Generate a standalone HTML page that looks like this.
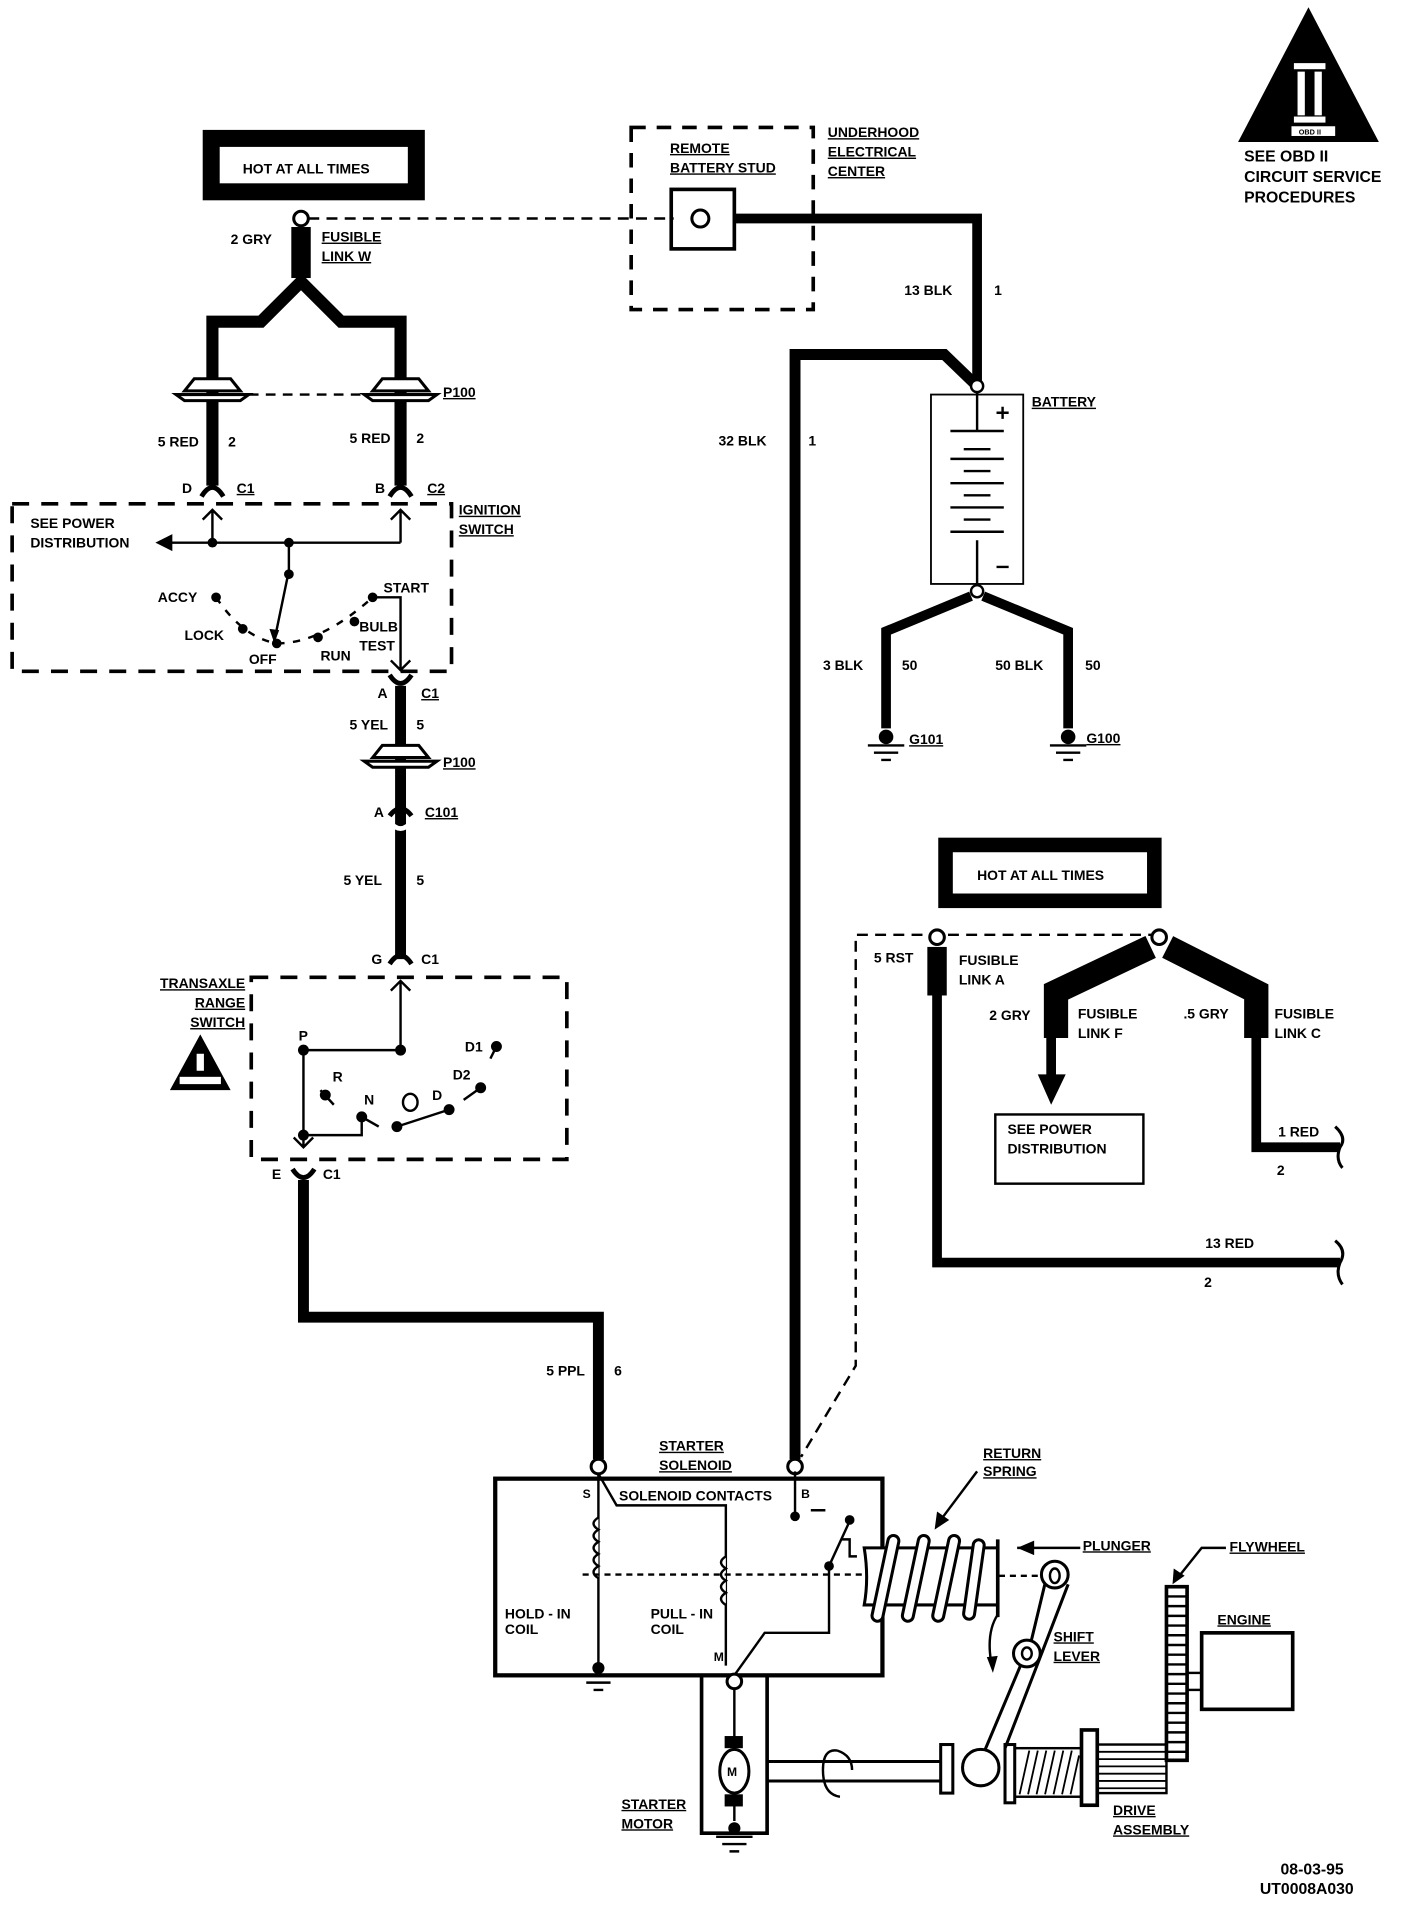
<!DOCTYPE html>
<html><head><meta charset="utf-8">
<style>
html,body{margin:0;padding:0;background:#fff;}
svg{display:block;}
text{font-family:"Liberation Sans",sans-serif;font-weight:bold;font-size:11.5px;fill:#000;}
.u{text-decoration:underline;}
</style></head>
<body>
<svg width="1408" height="1906" viewBox="0 0 1160 1570" preserveAspectRatio="none" xmlns="http://www.w3.org/2000/svg">
<rect width="1160" height="1570" fill="#fff"/>
<g fill="none" stroke="#000" stroke-linejoin="miter">

<polygon points="1078,6 1020,117 1136,117" fill="#000" stroke="none"/>
<rect x="1066" y="52" width="26" height="5" fill="#fff" stroke="none"/>
<rect x="1069" y="59" width="6" height="36" fill="#fff" stroke="none"/>
<rect x="1083" y="59" width="6" height="36" fill="#fff" stroke="none"/>
<rect x="1066" y="96" width="26" height="5" fill="#fff" stroke="none"/>
<rect x="1064" y="104" width="36" height="8" fill="#fff" stroke="none"/>

<rect x="174" y="114" width="169" height="44" stroke-width="14"/>
<circle cx="248" cy="180" r="6" stroke-width="2.5"/>
<rect x="240" y="187" width="16" height="42" fill="#000" stroke="none"/>
<path d="M254 180 H555" stroke-width="2" stroke-dasharray="9,6"/>
<path d="M175 400 V265 H215 L248 232 L281 265 H330 V400" stroke-width="10"/>
<g stroke-width="2.5" fill="#fff">
<path d="M152 322 L160 312 H190 L198 322 Z"/><path d="M145 325 H205 L198 330 H152 Z"/>
<path d="M307 322 L315 312 H345 L353 322 Z"/><path d="M300 325 H360 L353 330 H307 Z"/>
</g>
<path d="M205 325 H300" stroke-width="2" stroke-dasharray="8,6"/>
<path d="M166 409 Q175 394 184 409" stroke-width="4"/>
<path d="M321 409 Q330 394 339 409" stroke-width="4"/>
<rect x="10" y="415" width="362" height="138" stroke-width="3" stroke-dasharray="14,10"/>
<path d="M175 447 V420 M167 428 L175 420 L183 428 M330 447 V420 M322 428 L330 420 L338 428" stroke-width="2"/>
<path d="M140 447 H330" stroke-width="2"/>
<polygon points="128,447 142,440 142,454" fill="#000" stroke="none"/>
<circle cx="175" cy="447" r="4" fill="#000" stroke="none"/>
<circle cx="238" cy="447" r="4" fill="#000" stroke="none"/>
<path d="M238 447 V470 L226 528" stroke-width="2"/>
<circle cx="238" cy="473" r="4" fill="#000" stroke="none"/>
<polygon points="222,518 230,519 226,530" fill="#000" stroke="none"/>
<g fill="#000" stroke="none">
<circle cx="178" cy="492" r="4"/><circle cx="200" cy="518" r="4"/><circle cx="228" cy="530" r="4"/>
<circle cx="262" cy="525" r="4"/><circle cx="292" cy="512" r="4"/><circle cx="307" cy="492" r="4"/>
</g>
<path d="M178 492 Q200 525 228 530 Q265 530 307 492" stroke-width="2" stroke-dasharray="6,7"/>
<path d="M307 492 H330 V552 M322 544 L330 552 L338 544" stroke-width="2"/>
<path d="M321 556 Q330 570 339 556" stroke-width="4"/>
<path d="M330 565 V790" stroke-width="9"/>
<g stroke-width="2.5" fill="#fff">
<path d="M307 624 L315 614 H345 L353 624 Z"/><path d="M300 627 H360 L353 632 H307 Z"/>
</g>
<path d="M321 672 Q330 660 339 672" stroke-width="4"/>
<path d="M321 677 Q330 688 339 677" stroke-width="4" stroke="#fff"/>
<path d="M321 794 Q330 780 339 794" stroke-width="4"/>
<rect x="207" y="805" width="260" height="150" stroke-width="3" stroke-dasharray="14,10"/>
<path d="M330 865 V808 M322 816 L330 808 L338 816" stroke-width="2"/>
<path d="M330 865 H250 V945 M242 937 L250 945 L258 937" stroke-width="2"/>
<g fill="#000" stroke="none">
<circle cx="330" cy="865" r="4.5"/><circle cx="250" cy="865" r="4.5"/><circle cx="250" cy="935" r="4.5"/>
<circle cx="268" cy="902" r="4.5"/><circle cx="298" cy="920" r="4.5"/><circle cx="327" cy="928" r="4.5"/>
<circle cx="370" cy="914" r="4.5"/><circle cx="396" cy="896" r="4.5"/><circle cx="409" cy="862" r="4.5"/>
</g>
<path d="M250 935 H298 V920 L312 928 M327 928 L370 914 M382 906 L396 896 M404 872 L409 862 M264 898 L275 910" stroke-width="2"/>
<ellipse cx="338" cy="908" rx="6" ry="7" stroke-width="2"/>
<polygon points="165,852 140,898 190,898" fill="#000" stroke="none"/>
<rect x="162" y="868" width="6" height="14" fill="#fff" stroke="none"/>
<rect x="148" y="887" width="34" height="6" fill="#fff" stroke="none"/>
<path d="M241 963 Q250 977 259 963" stroke-width="4"/>
<path d="M250 972 V1085 H493 V1202" stroke-width="9"/>
<circle cx="493" cy="1208" r="6" stroke-width="2.5" fill="#fff"/>
<path d="M655 1202 V292 H778 L805 318" stroke-width="9"/>
<circle cx="655" cy="1208" r="6" stroke-width="2.5" fill="#fff"/>
<rect x="520" y="105" width="150" height="150" stroke-width="3" stroke-dasharray="12,9"/>
<rect x="553" y="156" width="52" height="49" stroke-width="3"/>
<circle cx="577" cy="180" r="7" stroke-width="2.5"/>
<path d="M605 180 H805 V316" stroke-width="8"/>
<circle cx="805" cy="318" r="5" stroke-width="2" fill="#fff"/>
<rect x="767" y="325" width="76" height="156" stroke-width="1.5"/>
<path d="M805 323 V355 M783 355 H827 M794 370 H816 M783 378 H827 M794 388 H816 M783 398 H827 M794 408 H816 M783 418 H827 M794 428 H816 M783 438 H827 M805 445 V481 M821 340 H831 M826 335 V345 M821 467 H831" stroke-width="2"/>
<circle cx="805" cy="487" r="5" stroke-width="2" fill="#fff"/>
<path d="M800 491 L730 520 V600 M810 491 L880 520 V600" stroke-width="8"/>
<g fill="#000" stroke="none"><circle cx="730" cy="607" r="6"/><circle cx="880" cy="607" r="6"/></g>
<path d="M715 614 H745 M720 620 H740 M726 626 H734 M865 614 H895 M870 620 H890 M876 626 H884" stroke-width="2"/>
<rect x="779" y="696" width="172" height="46" stroke-width="12"/>
<path d="M955 770 H705 V1125 L660 1200" stroke-width="2" stroke-dasharray="9,6"/>
<circle cx="772" cy="772" r="6" stroke-width="2.5" fill="#fff"/>
<rect x="764" y="780" width="16" height="40" fill="#000" stroke="none"/>
<path d="M772 820 V1040 H1104" stroke-width="8"/>
<path d="M1100 1022 Q1110 1030 1104 1040 Q1100 1050 1106 1058" stroke-width="2.5"/>
<circle cx="955" cy="772" r="6" stroke-width="2.5" fill="#fff"/>
<path d="M948 780 L870 817 V855 M962 780 L1035 817 V855" stroke-width="20"/>
<path d="M866 855 V890 M1035 855 V945 H1104" stroke-width="8"/>
<polygon points="855,885 878,885 866,910" fill="#000" stroke="none"/>
<path d="M1100 928 Q1110 937 1104 945 Q1100 955 1106 962" stroke-width="2.5"/>
<rect x="820" y="918" width="122" height="57" stroke-width="2"/>
<rect x="408" y="1218" width="319" height="162" stroke-width="3.5"/>
<path d="M493 1214 V1372" stroke-width="2"/>
<path d="M493 1214 L508 1240 H598 V1372" stroke-width="2"/>
<path d="M493 1250 q-8 5 0 10 q-8 5 0 10 q-8 5 0 10 q-8 5 0 10 q-8 5 0 10" stroke-width="2" fill="#fff"/>
<path d="M598 1282 q-8 5 0 10 q-8 5 0 10 q-8 5 0 10 q-8 5 0 10" stroke-width="2" fill="#fff"/>
<path d="M480 1297 H712" stroke-width="2" stroke-dasharray="5,4"/>
<path d="M605 1380 L630 1345 H683 V1290 L700 1253 M655 1212 V1248 M668 1244 H680 M693 1268 H700 V1282 H706" stroke-width="2"/>
<g fill="#000" stroke="none"><circle cx="655" cy="1249" r="4"/><circle cx="683" cy="1290" r="4"/><circle cx="700" cy="1252" r="4"/><circle cx="493" cy="1374" r="5"/></g>
<path d="M478 1380 H508 M483 1386 H503 M489 1392 H497" stroke-width="2"/>
<path d="M578 1380 V1510 H632 V1380" stroke-width="3"/>
<circle cx="605" cy="1385" r="6" stroke-width="2.5" fill="#fff"/>
<path d="M605 1391 V1500" stroke-width="2"/>
<rect x="597" y="1430" width="15" height="10" fill="#000" stroke="none"/>
<rect x="597" y="1478" width="15" height="10" fill="#000" stroke="none"/>
<ellipse cx="605" cy="1459" rx="12" ry="18" stroke-width="2.5" fill="#fff"/>
<circle cx="605" cy="1506" r="5" fill="#000" stroke="none"/>
<path d="M590 1513 H620 M595 1519 H615 M601 1525 H609" stroke-width="2"/>
<path d="M632 1451 H775 M632 1467 H775" stroke-width="2.5"/>
<path d="M690 1442 Q678 1440 678 1458 Q678 1478 692 1480 M690 1442 Q702 1446 702 1458" stroke-width="2"/>
<rect x="775" y="1437" width="10" height="40" stroke-width="2.5"/>
<!-- plunger & spring -->
<path d="M712 1275 H822 V1322 H712 Q716 1300 712 1275 Z" stroke-width="2.5" fill="#fff"/>
<g stroke-width="2.5" fill="#fff">
<rect x="725" y="1264" width="9" height="72" rx="4.5" transform="rotate(12 729 1300)"/>
<rect x="750" y="1264" width="9" height="72" rx="4.5" transform="rotate(12 754 1300)"/>
<rect x="775" y="1264" width="9" height="72" rx="4.5" transform="rotate(12 779 1300)"/>
<rect x="798" y="1268" width="9" height="66" rx="4.5" transform="rotate(8 802 1300)"/>
</g>
<path d="M822 1268 V1332" stroke-width="3"/>
<path d="M838 1275 H890" stroke-width="2"/>
<polygon points="838,1275 852,1269 852,1281" fill="#000" stroke="none"/>
<path d="M823 1298 H855" stroke-width="2" stroke-dasharray="5,4"/>
<path d="M862 1300 L850 1350 L810 1445 M880 1305 L857 1365 L828 1440" stroke-width="2.5"/>
<circle cx="869" cy="1297" r="11" stroke-width="2.5" fill="#fff"/>
<ellipse cx="869" cy="1298" rx="4" ry="6" stroke-width="2"/>
<circle cx="846" cy="1362" r="11" stroke-width="2.5" fill="#fff"/>
<ellipse cx="846" cy="1362" rx="4" ry="5" stroke-width="2"/>
<circle cx="808" cy="1456" r="15" stroke-width="2.5" fill="#fff"/>
<path d="M822 1330 Q812 1345 817 1372" stroke-width="2"/>
<polygon points="813,1365 822,1364 818,1378" fill="#000" stroke="none"/>
<rect x="828" y="1437" width="8" height="48" stroke-width="2.5"/>
<rect x="836" y="1440" width="55" height="40" stroke-width="2"/>
<path d="M840 1478 L848 1442 M847 1478 L855 1442 M854 1478 L862 1442 M861 1478 L869 1442 M868 1478 L876 1442 M875 1478 L883 1442 M882 1478 L889 1446" stroke-width="1.5"/>
<rect x="891" y="1425" width="13" height="62" stroke-width="3"/>
<rect x="904" y="1437" width="57" height="40" stroke-width="2"/>
<path d="M904 1443 H961 M904 1449 H961 M904 1455 H961 M904 1461 H961 M904 1467 H961 M904 1473 H961" stroke-width="1.5"/>
<rect x="961" y="1307" width="17" height="143" stroke-width="3"/>
<path d="M961 1315 H978 M961 1323 H978 M961 1331 H978 M961 1339 H978 M961 1347 H978 M961 1355 H978 M961 1363 H978 M961 1371 H978 M961 1379 H978 M961 1387 H978 M961 1395 H978 M961 1403 H978 M961 1411 H978 M961 1419 H978 M961 1427 H978 M961 1435 H978 M961 1443 H978" stroke-width="2"/>
<path d="M1010 1275 H990 L970 1300" stroke-width="2"/>
<polygon points="966,1305 967,1292 976,1298" fill="#000" stroke="none"/>
<rect x="978" y="1378" width="12" height="14" stroke-width="2"/>
<rect x="990" y="1345" width="75" height="63" stroke-width="3"/>
<path d="M805 1212 L775 1252" stroke-width="2"/>
<polygon points="770,1260 772,1245 782,1252" fill="#000" stroke="none"/>
</g>

<text x="1025" y="133" style="font-size:13px">SEE OBD II</text>
<text x="1025" y="150" style="font-size:13px">CIRCUIT SERVICE</text>
<text x="1025" y="167" style="font-size:13px">PROCEDURES</text>
<text x="1070" y="111" style="font-size:6px">OBD II</text>

<text x="200" y="143">HOT AT ALL TIMES</text>
<text x="190" y="201">2  GRY</text>
<text x="265" y="199" class="u">FUSIBLE</text>
<text x="265" y="215" class="u">LINK W</text>
<text x="365" y="327" class="u">P100</text>
<text x="130" y="368">5 RED</text><text x="188" y="368">2</text>
<text x="288" y="365">5 RED</text><text x="343" y="365">2</text>
<text x="150" y="406">D</text><text x="195" y="406" class="u">C1</text>
<text x="309" y="406">B</text><text x="352" y="406" class="u">C2</text>
<text x="378" y="424" class="u">IGNITION</text>
<text x="378" y="440" class="u">SWITCH</text>
<text x="25" y="435">SEE POWER</text>
<text x="25" y="451">DISTRIBUTION</text>
<text x="130" y="496">ACCY</text>
<text x="152" y="527">LOCK</text>
<text x="205" y="547">OFF</text>
<text x="264" y="544">RUN</text>
<text x="316" y="488">START</text>
<text x="296" y="520">BULB</text>
<text x="296" y="536">TEST</text>
<text x="311" y="575">A</text><text x="347" y="575" class="u">C1</text>
<text x="288" y="601">5 YEL</text><text x="343" y="601">5</text>
<text x="365" y="632" class="u">P100</text>
<text x="308" y="673">A</text><text x="350" y="673" class="u">C101</text>
<text x="283" y="729">5  YEL</text><text x="343" y="729">5</text>
<text x="306" y="794">G</text><text x="347" y="794">C1</text>
<text x="202" y="814" text-anchor="end" class="u">TRANSAXLE</text>
<text x="202" y="830" text-anchor="end" class="u">RANGE</text>
<text x="202" y="846" text-anchor="end" class="u">SWITCH</text>
<text x="246" y="857">P</text>
<text x="274" y="891">R</text>
<text x="300" y="910">N</text>
<text x="356" y="906">D</text>
<text x="373" y="889">D2</text>
<text x="383" y="866">D1</text>
<text x="224" y="971">E</text><text x="266" y="971">C1</text>
<text x="450" y="1133">5 PPL</text><text x="506" y="1133">6</text>
<text x="552" y="126" class="u">REMOTE</text>
<text x="552" y="142" class="u">BATTERY  STUD</text>
<text x="682" y="113" class="u">UNDERHOOD</text>
<text x="682" y="129" class="u">ELECTRICAL</text>
<text x="682" y="145" class="u">CENTER</text>
<text x="745" y="243">13  BLK</text><text x="819" y="243">1</text>
<text x="592" y="367">32  BLK</text><text x="666" y="367">1</text>
<text x="850" y="335" class="u">BATTERY</text>
<text x="678" y="552">3  BLK</text><text x="743" y="552">50</text>
<text x="820" y="552">50  BLK</text><text x="894" y="552">50</text>
<text x="749" y="613" class="u">G101</text>
<text x="895" y="612" class="u">G100</text>
<text x="805" y="725">HOT AT ALL TIMES</text>
<text x="720" y="793">5  RST</text>
<text x="790" y="795">FUSIBLE</text>
<text x="790" y="811">LINK  A</text>
<text x="815" y="840">2  GRY</text>
<text x="888" y="839">FUSIBLE</text>
<text x="888" y="855">LINK  F</text>
<text x="975" y="839">.5  GRY</text>
<text x="1050" y="839">FUSIBLE</text>
<text x="1050" y="855">LINK  C</text>
<text x="830" y="934">SEE  POWER</text>
<text x="830" y="950">DISTRIBUTION</text>
<text x="1053" y="936">1  RED</text>
<text x="1052" y="968">2</text>
<text x="993" y="1028">13  RED</text>
<text x="992" y="1060">2</text>
<text x="543" y="1195" class="u">STARTER</text>
<text x="543" y="1211" class="u">SOLENOID</text>
<text x="480" y="1234" style="font-size:10px">S</text>
<text x="510" y="1236">SOLENOID CONTACTS</text>
<text x="660" y="1234" style="font-size:10px">B</text>
<text x="416" y="1333">HOLD - IN</text>
<text x="416" y="1346">COIL</text>
<text x="536" y="1333">PULL - IN</text>
<text x="536" y="1346">COIL</text>
<text x="588" y="1368" style="font-size:10px">M</text>
<text x="599" y="1463" style="font-size:10px">M</text>
<text x="810" y="1201" class="u">RETURN</text>
<text x="810" y="1216" class="u">SPRING</text>
<text x="892" y="1277" class="u">PLUNGER</text>
<text x="1013" y="1278" class="u">FLYWHEEL</text>
<text x="1003" y="1338" class="u">ENGINE</text>
<text x="868" y="1352" class="u">SHIFT</text>
<text x="868" y="1368" class="u">LEVER</text>
<text x="512" y="1490" class="u">STARTER</text>
<text x="512" y="1506" class="u">MOTOR</text>
<text x="917" y="1495" class="u">DRIVE</text>
<text x="917" y="1511" class="u">ASSEMBLY</text>
<text x="1055" y="1544" style="font-size:13px">08-03-95</text>
<text x="1038" y="1560" style="font-size:13px">UT0008A030</text>
</svg>
</body></html>
